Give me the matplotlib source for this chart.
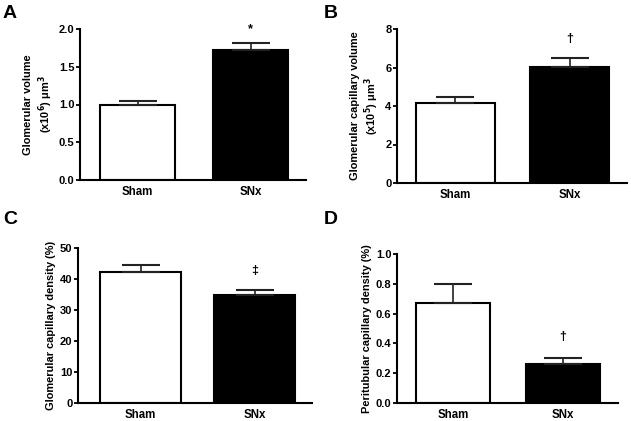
import matplotlib.pyplot as plt

plt.rcParams['font.family'] = ['Liberation Sans', 'DejaVu Sans']
plt.rcParams['font.weight'] = 'bold'

groups = ['Sham', 'SNx']

vol_mean = [1.0, 1.72]
vol_err = [0.05, 0.09]

capvol_mean = [4.15, 6.05]
capvol_err = [0.32, 0.45]

glom_dens_mean = [42.2, 34.7]
glom_dens_err = [2.4, 1.9]

peri_dens_mean = [0.67, 0.26]
peri_dens_err = [0.13, 0.04]

W, H = 631, 421
fig = plt.figure(figsize=(W / 100, H / 100), dpi=100)


def px_axes(x0, y_top, x1, y_bot):
    return fig.add_axes([x0 / W, 1 - y_bot / H, (x1 - x0) / W, (y_bot - y_top) / H])


def panel(ax, means, errs, ylim, yticks, ylabel, xlim, width, mark, mark_y, mark_size):
    ax.bar([0, 1], means, width=width, color=['white', 'black'],
           edgecolor='black', linewidth=1.5, zorder=2)
    ax.errorbar([0, 1], means, yerr=[[0, 0], errs], fmt='none', ecolor='#222222',
                elinewidth=1.2, capsize=13.5, capthick=1.5, zorder=3)
    ax.set_xlim(*xlim)
    ax.set_ylim(*ylim)
    ax.set_yticks(yticks)
    ax.set_xticks([0, 1])
    ax.set_xticklabels(groups, fontsize=8.3, fontweight='bold')
    ax.tick_params(axis='x', length=0, pad=4)
    ax.tick_params(axis='y', length=3, width=1.3, labelsize=8, pad=1)
    for lab in ax.get_yticklabels():
        lab.set_fontweight('bold')
    for s in ['top', 'right']:
        ax.spines[s].set_visible(False)
    for s in ['left', 'bottom']:
        ax.spines[s].set_linewidth(1.5)
    ax.spines['left'].set_bounds(ylim[0], ylim[1])
    ax.set_ylabel(ylabel, fontsize=7.9, fontweight='bold', labelpad=3)
    ax.text(1, mark_y, mark, ha='center', va='center', fontsize=mark_size,
            fontweight='bold')


axA = px_axes(80, 29, 306, 180)
panel(axA, vol_mean, vol_err, (0, 2.0), [0.0, 0.5, 1.0, 1.5, 2.0],
      'Glomerular volume\n(x10$^{\\mathbf{6}}$) μm$^{\\mathbf{3}}$',
      (-0.51, 1.49), 0.66, '*', 2.0, 9)
axA.yaxis.set_major_formatter(plt.FormatStrFormatter('%.1f'))

axB = px_axes(397, 29, 627, 183)
panel(axB, capvol_mean, capvol_err, (0, 8), [0, 2, 4, 6, 8],
      'Glomerular capillary volume\n(x10$^{\\mathbf{5}}$) μm$^{\\mathbf{3}}$',
      (-0.51, 1.50), 0.69, '†', 7.5, 9)

axC = px_axes(78, 248, 312, 403)
panel(axC, glom_dens_mean, glom_dens_err, (0, 50), [0, 10, 20, 30, 40, 50],
      'Glomerular capillary density (%)',
      (-0.55, 1.50), 0.71, '‡', 42.6, 9)

axD = px_axes(397, 254, 618, 403)
panel(axD, peri_dens_mean, peri_dens_err, (0, 1.0), [0.0, 0.2, 0.4, 0.6, 0.8, 1.0],
      'Peritubular capillary density (%)',
      (-0.51, 1.50), 0.67, '†', 0.44, 9)
axD.yaxis.set_major_formatter(plt.FormatStrFormatter('%.1f'))

for lab, x, y in [('A', 3, 5), ('B', 324, 5), ('C', 3, 211), ('D', 324, 211)]:
    fig.text(x / W, 1 - y / H, lab, fontsize=14, fontweight='bold', va='top', ha='left')

fig.savefig('out.png', dpi=100)
